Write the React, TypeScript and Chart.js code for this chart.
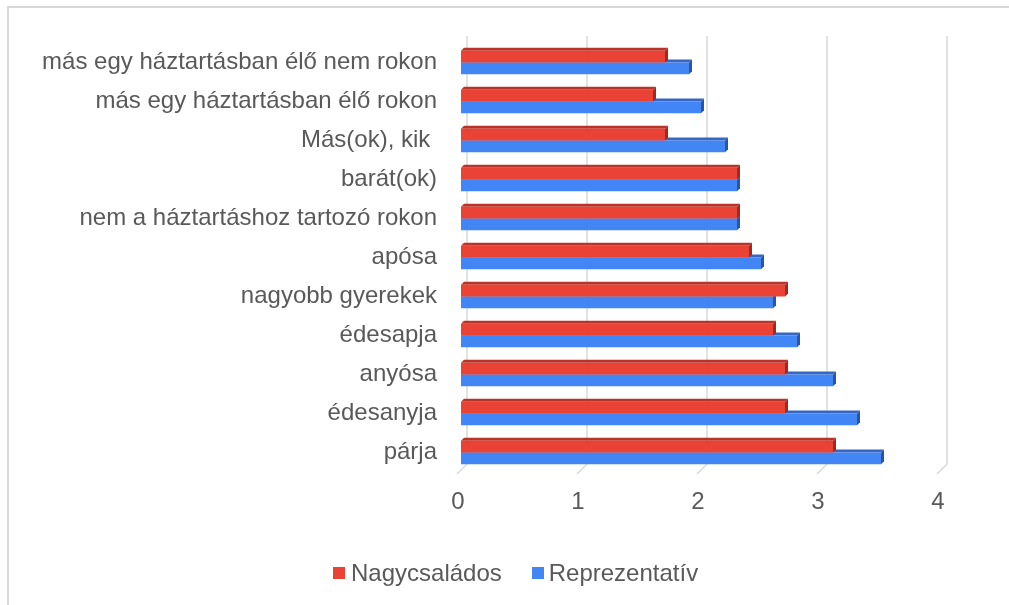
import React, { useEffect, useRef } from "react";
import { Chart, registerables } from "chart.js";

Chart.register(...registerables);

const categories = [
  "más egy háztartásban élő nem rokon",
  "más egy háztartásban élő rokon",
  "Más(ok), kik ",
  "barát(ok)",
  "nem a háztartáshoz tartozó rokon",
  "apósa",
  "nagyobb gyerekek",
  "édesapja",
  "anyósa",
  "édesanyja",
  "párja",
];
const nagycsaladosValues = [1.7, 1.6, 1.7, 2.3, 2.3, 2.4, 2.7, 2.6, 2.7, 2.7, 3.1];
const reprezentativValues = [1.9, 2.0, 2.2, 2.3, 2.3, 2.5, 2.6, 2.8, 3.1, 3.3, 3.5];
const seriesNames = ["Nagycsaládos", "Reprezentatív"];
const xTickValues = [0, 1, 2, 3, 4];

const FONT = '"Liberation Sans", Arial, sans-serif';
const TEXT = "#595959";
const FRONT = ["#EA4335", "#4285F4"];
const TOPFACE = ["#B8342A", "#3466C2"];
const SIDEFACE = ["#9E2A21", "#2A55A6"];

const depthPlugin = {
  id: "depth3d",
  beforeDatasetsDraw(chart: any) {
    const ctx = chart.ctx;
    const xs = chart.scales.x;
    const area = chart.chartArea;
    ctx.save();
    ctx.strokeStyle = "#d9d9d9";
    ctx.lineWidth = 1.5;
    for (const v of xTickValues) {
      const px = xs.getPixelForValue(v);
      ctx.beginPath();
      ctx.moveTo(px + 6, area.top - 7);
      ctx.lineTo(px + 6, area.bottom - 8);
      ctx.lineTo(px - 4, area.bottom + 2);
      ctx.stroke();
    }
    ctx.restore();
  },
  beforeDatasetDraw(chart: any, args: any) {
    const ctx = chart.ctx;
    const i = args.index;
    const d = 3;
    ctx.save();
    for (const el of args.meta.data) {
      const p = el.getProps(["x", "y", "base", "height"], true);
      const top = p.y - p.height / 2;
      const bottom = p.y + p.height / 2;
      ctx.fillStyle = TOPFACE[i];
      ctx.beginPath();
      ctx.moveTo(p.base, top);
      ctx.lineTo(p.base + d, top - d);
      ctx.lineTo(p.x + d, top - d);
      ctx.lineTo(p.x, top);
      ctx.closePath();
      ctx.fill();
      ctx.fillStyle = SIDEFACE[i];
      ctx.beginPath();
      ctx.moveTo(p.x, top);
      ctx.lineTo(p.x + d, top - d);
      ctx.lineTo(p.x + d, bottom - d);
      ctx.lineTo(p.x, bottom);
      ctx.closePath();
      ctx.fill();
    }
    ctx.restore();
  },
};

export default function App() {
  const ref = useRef<HTMLCanvasElement | null>(null);

  useEffect(() => {
    if (!ref.current) return;
    const chart = new Chart(ref.current, {
      type: "bar",
      data: {
        labels: categories,
        datasets: [
          {
            label: seriesNames[0],
            data: nagycsaladosValues,
            backgroundColor: FRONT[0],
            categoryPercentage: 0.6,
            barPercentage: 1,
          },
          {
            label: seriesNames[1],
            data: reprezentativValues,
            backgroundColor: FRONT[1],
            categoryPercentage: 0.6,
            barPercentage: 1,
          },
        ],
      },
      options: {
        indexAxis: "y",
        animation: false,
        responsive: false,
        maintainAspectRatio: false,
        layout: { padding: { top: 43, right: 68, bottom: 0, left: 0 } },
        plugins: {
          legend: { display: false },
          tooltip: { enabled: false },
        },
        scales: {
          x: {
            min: 0,
            max: 4,
            grid: { display: false, drawTicks: false },
            border: { display: false },
            ticks: {
              stepSize: 1,
              color: TEXT,
              font: { family: FONT, size: 24 },
              padding: 16,
              labelOffset: -3,
            },
            afterFit: (s: any) => {
              s.height = 605 - 472;
            },
          },
          y: {
            grid: { display: false, drawTicks: false },
            border: { display: false },
            ticks: {
              color: TEXT,
              font: { family: FONT, size: 24 },
              padding: 24,
            },
            afterFit: (s: any) => {
              s.width = 461;
            },
          },
        },
      },
      plugins: [depthPlugin],
    });
    return () => chart.destroy();
  }, []);

  return (
    <div
      style={{
        position: "fixed",
        left: 0,
        top: 0,
        width: 1009,
        height: 605,
        overflow: "hidden",
        background: "#fff",
      }}
    >
      <div
        style={{
          position: "absolute",
          left: 7,
          top: 6,
          width: 1200,
          height: 800,
          borderLeft: "2px solid #d9d9d9",
          borderTop: "2px solid #d9d9d9",
        }}
      />
      <canvas
        ref={ref}
        width={1009}
        height={605}
        style={{ position: "absolute", left: 0, top: 0, width: 1009, height: 605 }}
      />
      <div
        style={{
          position: "absolute",
          left: 333,
          top: 561,
          display: "flex",
          alignItems: "center",
          fontFamily: FONT,
          fontSize: 24,
          lineHeight: "24px",
          color: TEXT,
          whiteSpace: "nowrap",
        }}
      >
        <span style={{ width: 12, height: 12, background: FRONT[0], display: "inline-block" }} />
        <span style={{ marginLeft: 6 }}>{seriesNames[0]}</span>
        <span
          style={{ width: 12, height: 12, background: FRONT[1], display: "inline-block", marginLeft: 30 }}
        />
        <span style={{ marginLeft: 5 }}>{seriesNames[1]}</span>
      </div>
    </div>
  );
}
